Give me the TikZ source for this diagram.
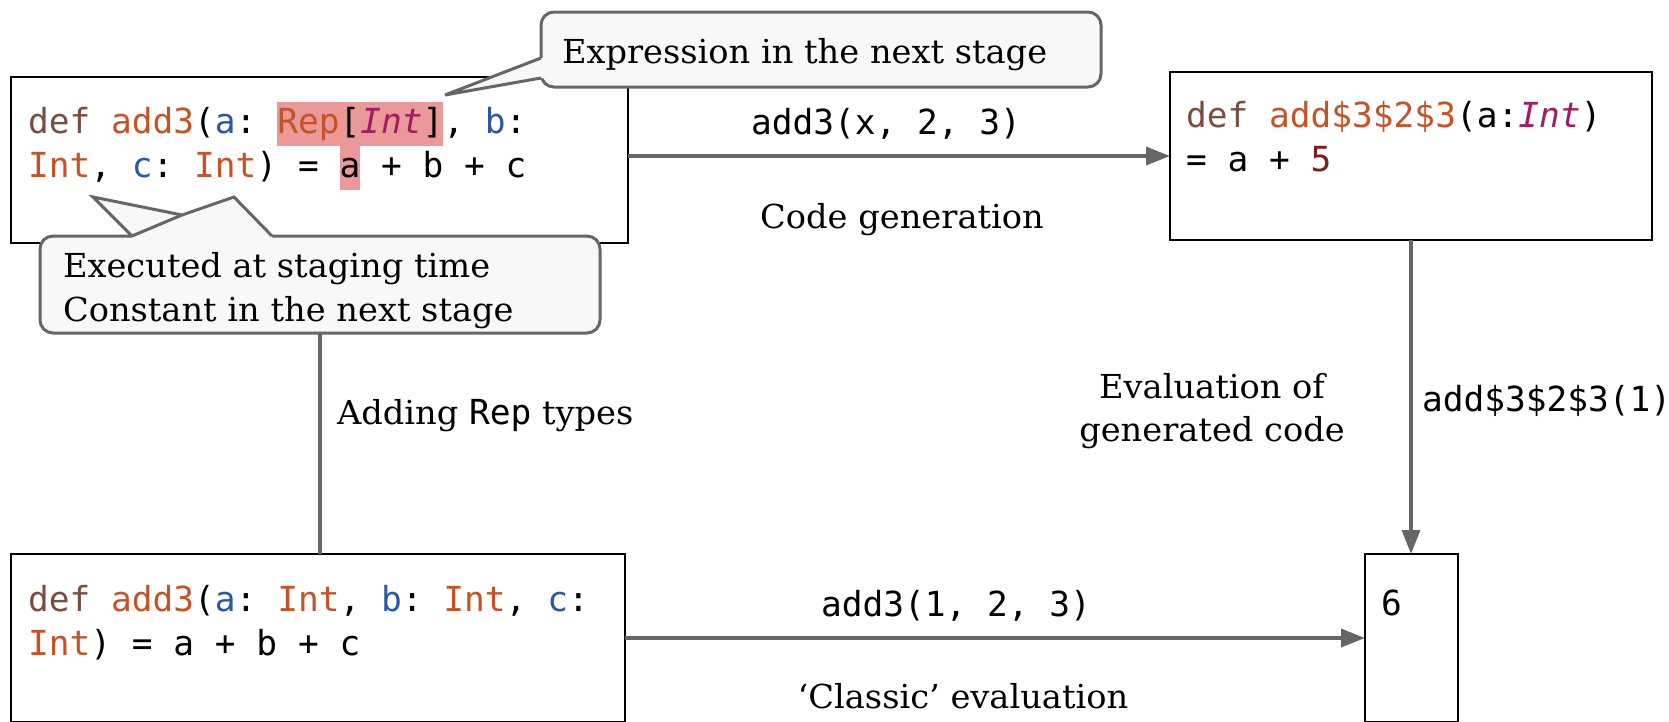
\documentclass[tikz,border=0pt]{standalone}
\usepackage{fontspec}
\setmainfont{DejaVu Serif}[FakeStretch=1.02]
\setmonofont{DejaVu Sans Mono}
\usetikzlibrary{arrows.meta}

\definecolor{kwbrown}{RGB}{122,78,62}
\definecolor{fnorange}{RGB}{197,83,38}
\definecolor{parblue}{RGB}{42,88,165}
\definecolor{itmag}{RGB}{163,29,98}
\definecolor{numred}{RGB}{128,28,28}
\definecolor{hlpink}{RGB}{234,152,152}
\definecolor{linegray}{RGB}{102,102,102}
\definecolor{bubblefill}{RGB}{248,248,248}

% fonts for code and for prose labels
\newcommand\codefont{\ttfamily\fontsize{34.5pt}{44pt}\selectfont}
\newcommand\labelfont{\rmfamily\fontsize{33pt}{42pt}\selectfont}

% syntax colouring
\newcommand\kw[1]{\textcolor{kwbrown}{#1}}
\newcommand\fn[1]{\textcolor{fnorange}{#1}}
\newcommand\pa[1]{\textcolor{parblue}{#1}}
\newcommand\ty[1]{\textcolor{fnorange}{#1}}
\newcommand\ity[1]{\textcolor{itmag}{\itshape #1}}
\newcommand\lit[1]{\textcolor{numred}{#1}}
\newcommand\hlbox[1]{{\setlength\fboxsep{0pt}\colorbox{hlpink}{\rule[-13pt]{0pt}{44pt}#1}}}

\begin{document}
\begin{tikzpicture}[x=1pt,y=-1pt,
  box/.style={draw=black, line width=2pt, anchor=north west, inner sep=0pt, outer sep=0pt},
  bubblebox/.style={draw=linegray, fill=bubblefill, line width=3pt, rounded corners=13pt,
                    anchor=north west, inner sep=0pt, outer sep=0pt},
  bubbleline/.style={draw=linegray, line width=3pt},
  txt/.style={inner sep=0pt, outer sep=0pt, font=\labelfont},
  code/.style={inner sep=0pt, outer sep=0pt, font=\codefont, anchor=base west},
  conn/.style={draw=linegray, line width=3.5pt},
  arr/.style={conn, -{Triangle[length=24pt,width=18pt]}},
]
\useasboundingbox (0,0) rectangle (1669,721);
\fill[white] (0,0) rectangle (1669,721);
\clip (0,0) rectangle (1669,721);

% program boxes
\node[box, minimum width=617pt, minimum height=166pt] (src) at (11,77) {};
\node[box, minimum width=482pt, minimum height=168pt] (tgt) at (1170,72) {};
\node[box, minimum width=614pt, minimum height=168pt] (plain) at (11,554) {};
\node[box, minimum width=93pt, minimum height=168pt] (res) at (1365,554) {};

% code inside the boxes
\node[code] (src1) at (28,133) {\kw{def} \fn{add3}(\pa{a}: \hlbox{\ty{Rep}[\ity{Int}]}, \pa{b}:};
\node[code] (src2) at (28,177) {\ty{Int}, \pa{c}: \ty{Int}) = \hlbox{a} + b + c};
\node[code] (tgt1) at (1186,127) {\kw{def} \fn{add\$3\$2\$3}(a:\ity{Int})};
\node[code] (tgt2) at (1186,171) {= a + \lit{5}};
\node[code] (plain1) at (28,611) {\kw{def} \fn{add3}(\pa{a}: \ty{Int}, \pa{b}: \ty{Int}, \pa{c}:};
\node[code] (plain2) at (28,655) {\ty{Int}) = a + b + c};
\node[code] (res1) at (1381,615) {6};

% connectors
\draw[arr] (src.east |- tgt.west) -- (tgt.west);
\draw[arr] (tgt.south) -- (tgt.south |- res.north);
\draw[arr] (plain.east) -- (res.west);

% connector labels
\node[code, anchor=base] (callx) at (886,134) {add3(x, 2, 3)};
\node[txt, anchor=base] (codegen) at (902,228) {Code generation};
\node[txt, anchor=base west] (addrep) at (337,424) {Adding {\codefont Rep} types};
\node[txt, anchor=base] (evalA) at (1212,398) {Evaluation of};
\node[txt, anchor=base] (evalB) at (1212,441) {generated code};
\node[code] (callone) at (1422,411) {add\$3\$2\$3(1)};
\node[code, anchor=base] (callnum) at (956,616) {add3(1, 2, 3)};
\node[txt, anchor=base] (classic) at (963,708) {‘Classic’ evaluation};

% callout: expression in the next stage
\node[bubblebox, minimum width=560pt, minimum height=75pt] (next) at (541,12) {};
\fill[bubblefill] (445,95) -- (541,58) -- (547,58) -- (547,78) -- (541,78) -- cycle;
\draw[bubbleline] (541,58) -- (445,95) -- (541,78);
\node[txt, anchor=base west] (nexttext) at (562,63) {Expression in the next stage};

% callout: executed at staging time
\node[bubblebox, minimum width=560pt, minimum height=97pt] (exec) at (40,236) {};
\fill[bubblefill] (132,236) -- (93,197) -- (182,215) -- (234,197) -- (272,236)
  -- (272,241) -- (132,241) -- cycle;
\draw[bubbleline] (132,236) -- (93,197) -- (182,215) -- (234,197) -- (272,236);
\draw[bubbleline] (132,236) -- (182,215);
\node[txt, anchor=base west] (exec1) at (63,277) {Executed at staging time};
\node[txt, anchor=base west] (exec2) at (63,321) {Constant in the next stage};

% the Rep-less program links down to the plain version
\draw[conn] (exec.south) -- (exec.south |- plain.north);
\end{tikzpicture}
\end{document}
